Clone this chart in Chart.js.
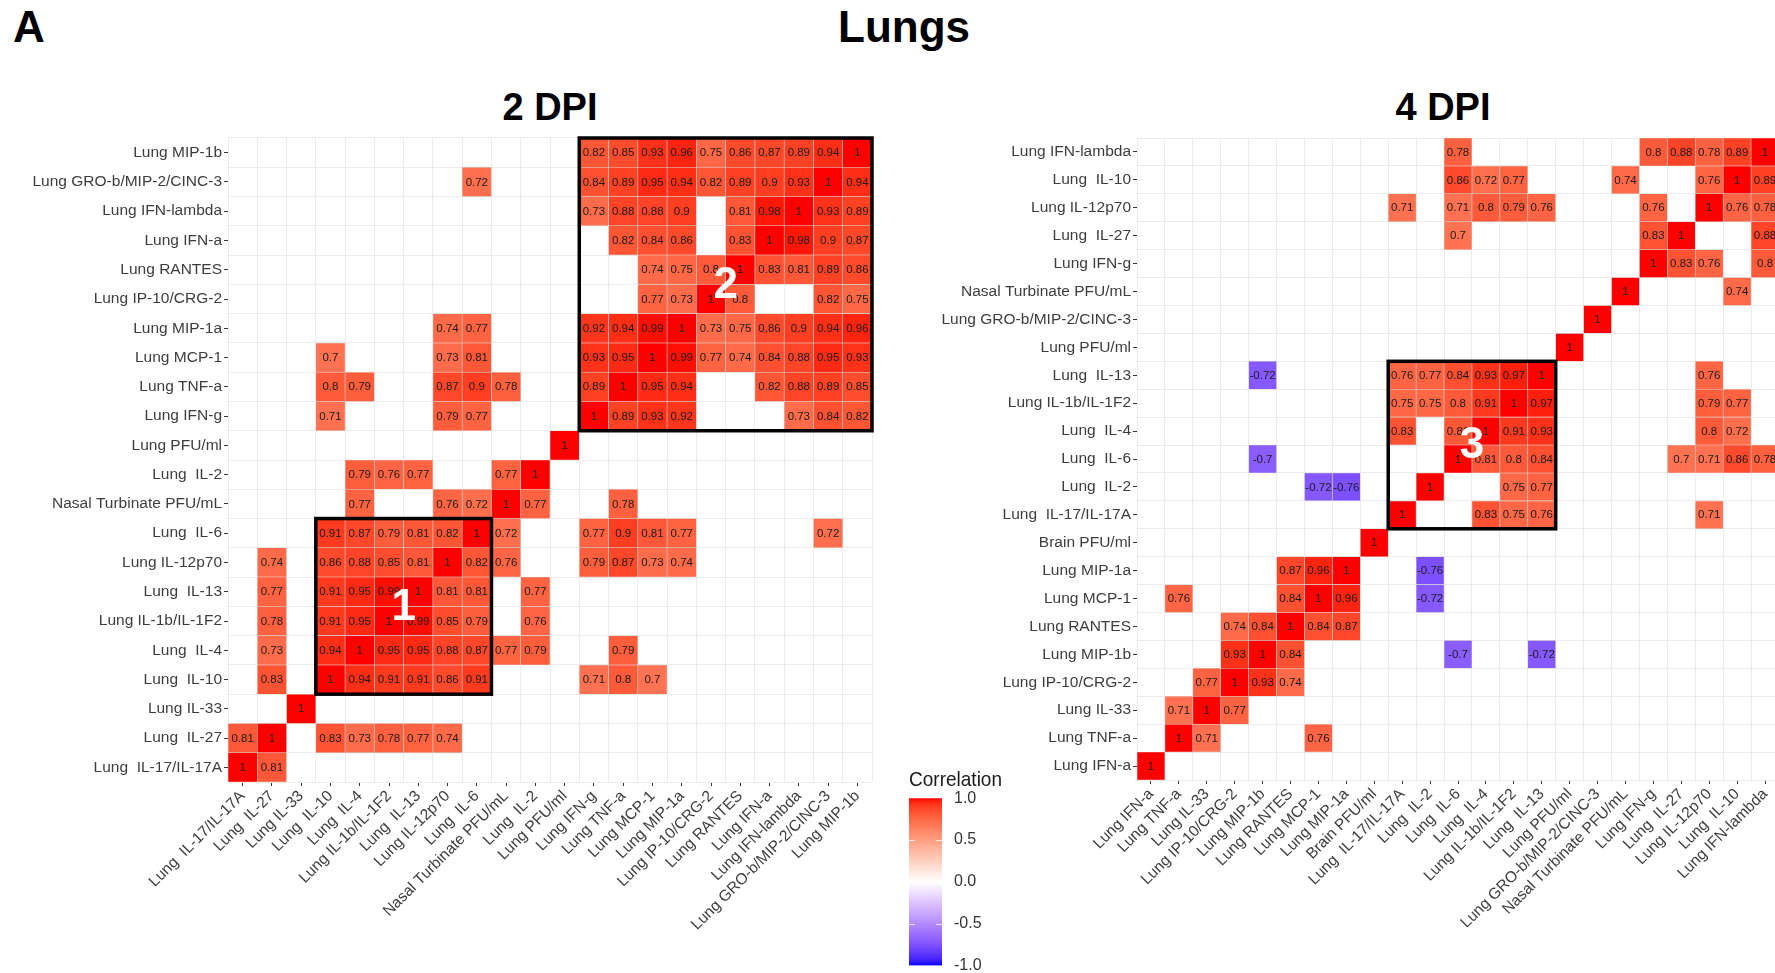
<!DOCTYPE html>
<html><head><meta charset="utf-8">
<script src="https://cdn.jsdelivr.net/npm/chart.js@4.4.1/dist/chart.umd.min.js"></script>
<style>
html,body{margin:0;padding:0;background:#fff;overflow:hidden;width:1775px;height:973px;}
body{position:relative;font-family:"Liberation Sans",Arial,sans-serif;}
canvas{position:absolute;}
.t{position:absolute;font-weight:bold;color:#000;line-height:1;white-space:nowrap;}
</style></head><body>
<div class="t" style="left:13px;top:5px;font-size:44px;">A</div>
<div class="t" style="left:904px;top:5px;font-size:44px;transform:translateX(-50%);">Lungs</div>
<div class="t" style="left:550px;top:88px;font-size:38px;transform:translateX(-50%);">2 DPI</div>
<div class="t" style="left:1443px;top:88px;font-size:38px;transform:translateX(-50%);">4 DPI</div>
<canvas id="c2" width="880" height="973" style="left:0;top:0"></canvas>
<canvas id="c4" width="900" height="973" style="left:900px;top:0"></canvas>
<canvas id="cl" width="130" height="232" style="left:895px;top:755px"></canvas>
<script>
const _ = null;

// ---------- 2 DPI ----------
const dpi2Labels = ['Lung  IL-17/IL-17A','Lung  IL-27','Lung IL-33','Lung  IL-10','Lung  IL-4','Lung IL-1b/IL-1F2','Lung  IL-13','Lung IL-12p70','Lung  IL-6','Nasal Turbinate PFU/mL','Lung  IL-2','Lung PFU/ml','Lung IFN-g','Lung TNF-a','Lung MCP-1','Lung MIP-1a','Lung IP-10/CRG-2','Lung RANTES','Lung IFN-a','Lung IFN-lambda','Lung GRO-b/MIP-2/CINC-3','Lung MIP-1b'];
const dpi2Values = [
  [1,0.81,_,_,_,_,_,_,_,_,_,_,_,_,_,_,_,_,_,_,_,_],
  [0.81,1,_,0.83,0.73,0.78,0.77,0.74,_,_,_,_,_,_,_,_,_,_,_,_,_,_],
  [_,_,1,_,_,_,_,_,_,_,_,_,_,_,_,_,_,_,_,_,_,_],
  [_,0.83,_,1,0.94,0.91,0.91,0.86,0.91,_,_,_,0.71,0.8,0.7,_,_,_,_,_,_,_],
  [_,0.73,_,0.94,1,0.95,0.95,0.88,0.87,0.77,0.79,_,_,0.79,_,_,_,_,_,_,_,_],
  [_,0.78,_,0.91,0.95,1,0.99,0.85,0.79,_,0.76,_,_,_,_,_,_,_,_,_,_,_],
  [_,0.77,_,0.91,0.95,0.99,1,0.81,0.81,_,0.77,_,_,_,_,_,_,_,_,_,_,_],
  [_,0.74,_,0.86,0.88,0.85,0.81,1,0.82,0.76,_,_,0.79,0.87,0.73,0.74,_,_,_,_,_,_],
  [_,_,_,0.91,0.87,0.79,0.81,0.82,1,0.72,_,_,0.77,0.9,0.81,0.77,_,_,_,_,0.72,_],
  [_,_,_,_,0.77,_,_,0.76,0.72,1,0.77,_,_,0.78,_,_,_,_,_,_,_,_],
  [_,_,_,_,0.79,0.76,0.77,_,_,0.77,1,_,_,_,_,_,_,_,_,_,_,_],
  [_,_,_,_,_,_,_,_,_,_,_,1,_,_,_,_,_,_,_,_,_,_],
  [_,_,_,0.71,_,_,_,0.79,0.77,_,_,_,1,0.89,0.93,0.92,_,_,_,0.73,0.84,0.82],
  [_,_,_,0.8,0.79,_,_,0.87,0.9,0.78,_,_,0.89,1,0.95,0.94,_,_,0.82,0.88,0.89,0.85],
  [_,_,_,0.7,_,_,_,0.73,0.81,_,_,_,0.93,0.95,1,0.99,0.77,0.74,0.84,0.88,0.95,0.93],
  [_,_,_,_,_,_,_,0.74,0.77,_,_,_,0.92,0.94,0.99,1,0.73,0.75,0.86,0.9,0.94,0.96],
  [_,_,_,_,_,_,_,_,_,_,_,_,_,_,0.77,0.73,1,0.8,_,_,0.82,0.75],
  [_,_,_,_,_,_,_,_,_,_,_,_,_,_,0.74,0.75,0.8,1,0.83,0.81,0.89,0.86],
  [_,_,_,_,_,_,_,_,_,_,_,_,_,0.82,0.84,0.86,_,0.83,1,0.98,0.9,0.87],
  [_,_,_,_,_,_,_,_,_,_,_,_,0.73,0.88,0.88,0.9,_,0.81,0.98,1,0.93,0.89],
  [_,_,_,_,_,_,_,_,0.72,_,_,_,0.84,0.89,0.95,0.94,0.82,0.89,0.9,0.93,1,0.94],
  [_,_,_,_,_,_,_,_,_,_,_,_,0.82,0.85,0.93,0.96,0.75,0.86,0.87,0.89,0.94,1]
];
const dpi2Clusters = [{label:'1', from:3, to:8}, {label:'2', from:12, to:21}];

// ---------- 4 DPI ----------
const dpi4Labels = ['Lung IFN-a','Lung TNF-a','Lung IL-33','Lung IP-10/CRG-2','Lung MIP-1b','Lung RANTES','Lung MCP-1','Lung MIP-1a','Brain PFU/ml','Lung  IL-17/IL-17A','Lung  IL-2','Lung  IL-6','Lung  IL-4','Lung IL-1b/IL-1F2','Lung  IL-13','Lung PFU/ml','Lung GRO-b/MIP-2/CINC-3','Nasal Turbinate PFU/mL','Lung IFN-g','Lung  IL-27','Lung IL-12p70','Lung  IL-10','Lung IFN-lambda'];
const dpi4Values = [
  [1,_,_,_,_,_,_,_,_,_,_,_,_,_,_,_,_,_,_,_,_,_,_],
  [_,1,0.71,_,_,_,0.76,_,_,_,_,_,_,_,_,_,_,_,_,_,_,_,_],
  [_,0.71,1,0.77,_,_,_,_,_,_,_,_,_,_,_,_,_,_,_,_,_,_,_],
  [_,_,0.77,1,0.93,0.74,_,_,_,_,_,_,_,_,_,_,_,_,_,_,_,_,_],
  [_,_,_,0.93,1,0.84,_,_,_,_,_,-0.7,_,_,-0.72,_,_,_,_,_,_,_,_],
  [_,_,_,0.74,0.84,1,0.84,0.87,_,_,_,_,_,_,_,_,_,_,_,_,_,_,_],
  [_,0.76,_,_,_,0.84,1,0.96,_,_,-0.72,_,_,_,_,_,_,_,_,_,_,_,_],
  [_,_,_,_,_,0.87,0.96,1,_,_,-0.76,_,_,_,_,_,_,_,_,_,_,_,_],
  [_,_,_,_,_,_,_,_,1,_,_,_,_,_,_,_,_,_,_,_,_,_,_],
  [_,_,_,_,_,_,_,_,_,1,_,_,0.83,0.75,0.76,_,_,_,_,_,0.71,_,_],
  [_,_,_,_,_,_,-0.72,-0.76,_,_,1,_,_,0.75,0.77,_,_,_,_,_,_,_,_],
  [_,_,_,_,-0.7,_,_,_,_,_,_,1,0.81,0.8,0.84,_,_,_,_,0.7,0.71,0.86,0.78],
  [_,_,_,_,_,_,_,_,_,0.83,_,0.81,1,0.91,0.93,_,_,_,_,_,0.8,0.72,_],
  [_,_,_,_,_,_,_,_,_,0.75,0.75,0.8,0.91,1,0.97,_,_,_,_,_,0.79,0.77,_],
  [_,_,_,_,-0.72,_,_,_,_,0.76,0.77,0.84,0.93,0.97,1,_,_,_,_,_,0.76,_,_],
  [_,_,_,_,_,_,_,_,_,_,_,_,_,_,_,1,_,_,_,_,_,_,_],
  [_,_,_,_,_,_,_,_,_,_,_,_,_,_,_,_,1,_,_,_,_,_,_],
  [_,_,_,_,_,_,_,_,_,_,_,_,_,_,_,_,_,1,_,_,_,0.74,_],
  [_,_,_,_,_,_,_,_,_,_,_,_,_,_,_,_,_,_,1,0.83,0.76,_,0.8],
  [_,_,_,_,_,_,_,_,_,_,_,0.7,_,_,_,_,_,_,0.83,1,_,_,0.88],
  [_,_,_,_,_,_,_,_,_,0.71,_,0.71,0.8,0.79,0.76,_,_,_,0.76,_,1,0.76,0.78],
  [_,_,_,_,_,_,_,_,_,_,_,0.86,0.72,0.77,_,_,_,0.74,_,_,0.76,1,0.89],
  [_,_,_,_,_,_,_,_,_,_,_,0.78,_,_,_,_,_,_,0.8,0.88,0.78,0.89,1]
];
const dpi4Clusters = [{label:'3', from:9, to:14}];

// ---------- legend ----------
const legendRange = [-1, 1];
const legendStep = 0.5;

// ---------- colour scale (white -> red / white -> blue, Lab interpolation) ----------
function lab2rgb(L, a, b) {
  const fy = (L + 16) / 116, fx = fy + a / 500, fz = fy - b / 200;
  const f = t => (t > 6/29 ? t*t*t : 3*(6/29)*(6/29)*(t - 4/29));
  const X = 0.95047 * f(fx), Y = f(fy), Z = 1.08883 * f(fz);
  let r = 3.2406*X - 1.5372*Y - 0.4986*Z;
  let g = -0.9689*X + 1.8758*Y + 0.0415*Z;
  let bb = 0.0557*X - 0.2040*Y + 1.0570*Z;
  const gam = c => { c = Math.min(1, Math.max(0, c)); return Math.round(255 * (c <= 0.0031308 ? 12.92*c : 1.055*Math.pow(c, 1/2.4) - 0.055)); };
  return `rgb(${gam(r)},${gam(g)},${gam(bb)})`;
}
const LAB_RED = [53.24, 80.09, 67.20], LAB_BLUE = [32.30, 79.19, -107.86], LAB_WHITE = [100, 0, 0];
function corrColor(v) {
  if (v === null || v === undefined) return 'rgba(0,0,0,0)';
  const t = Math.min(1, Math.abs(v)), e = v >= 0 ? LAB_RED : LAB_BLUE;
  return lab2rgb(LAB_WHITE[0] + (e[0]-LAB_WHITE[0])*t, e[1]*t, e[2]*t);
}

Chart.defaults.font.family = '"Liberation Sans", Arial, sans-serif';

function heatmap(canvasId, labels, values, clusters, geo) {
  const n = labels.length;
  const datasets = values.map((row, r) => ({
    data: row.map(v => v === null ? null : [r - 0.5, r + 0.5]),
    values: row,
    xAxisID: 'x', yAxisID: 'yv',
    grouped: false, barPercentage: 1, categoryPercentage: 1,
    borderWidth: 0.6, borderColor: 'rgba(205,205,205,0.55)', borderSkipped: false,
    backgroundColor: ctx => corrColor(ctx.dataset.values[ctx.dataIndex])
  }));
  const textPlugin = {
    id: 'cellText' + canvasId,
    afterDatasetsDraw(chart) {
      const ctx = chart.ctx;
      ctx.save();
      ctx.font = '11.5px "Liberation Sans", Arial, sans-serif';
      ctx.fillStyle = '#1a1a1a';
      ctx.textAlign = 'center'; ctx.textBaseline = 'middle';
      chart.data.datasets.forEach((ds, i) => {
        chart.getDatasetMeta(i).data.forEach((bar, j) => {
          const v = ds.values[j];
          if (v === null) return;
          const p = bar.getProps(['x', 'y', 'base'], true);
          ctx.fillText(String(v), p.x, (p.y + p.base) / 2 + 0.5);
        });
      });
      const xs = chart.scales.x, ys = chart.scales.yv;
      const half = (xs.getPixelForValue(1) - xs.getPixelForValue(0)) / 2;
      clusters.forEach(cl => {
        const x0 = xs.getPixelForValue(cl.from) - half, x1 = xs.getPixelForValue(cl.to) + half;
        const y0 = ys.getPixelForValue(cl.to + 0.5), y1 = ys.getPixelForValue(cl.from - 0.5);
        ctx.lineWidth = 3.5; ctx.strokeStyle = '#000';
        ctx.strokeRect(x0, y0, x1 - x0, y1 - y0);
        ctx.font = 'bold 44px "Liberation Sans", Arial, sans-serif';
        ctx.fillStyle = '#fff';
        ctx.fillText(cl.label, (x0 + x1) / 2, (y0 + y1) / 2 + 1);
      });
      ctx.restore();
    }
  };
  return new Chart(document.getElementById(canvasId), {
    type: 'bar',
    data: { labels, datasets },
    options: {
      responsive: false, animation: false, events: [],
      layout: { padding: geo.padding },
      plugins: { legend: { display: false }, tooltip: { enabled: false } },
      scales: {
        x: { type: 'category', position: 'bottom', offset: true,
             grid: { offset: false, drawOnChartArea: false, drawTicks: true, tickLength: 4, color: '#333' },
             border: { display: false },
             ticks: { autoSkip: false, minRotation: 45, maxRotation: 45, color: '#3d3d3d', font: { size: 15.5 }, padding: 1 },
             afterFit: s => { s.height = geo.xAxisHeight; } },
        xg: { type: 'category', position: 'top', offset: true,
              grid: { offset: true, color: '#ebebeb', drawTicks: false },
              border: { display: false }, ticks: { display: false },
              afterFit: s => { s.height = 0; } },
        y: { type: 'category', labels, reverse: true, position: 'left', offset: true,
             grid: { offset: false, drawOnChartArea: false, drawTicks: true, tickLength: 4, color: '#333' },
             border: { display: false },
             ticks: { autoSkip: false, color: '#3d3d3d', font: { size: 15.5 }, padding: 2 },
             afterFit: s => { s.width = geo.yAxisWidth; } },
        yg: { type: 'category', labels, reverse: true, position: 'right', offset: true,
              grid: { offset: true, color: '#ebebeb', drawTicks: false },
              border: { display: false }, ticks: { display: false },
              afterFit: s => { s.width = 0; } },
        yv: { type: 'linear', display: false, min: -0.5, max: n - 0.5 }
      }
    },
    plugins: [textPlugin]
  });
}

heatmap('c2', dpi2Labels, dpi2Values, dpi2Clusters,
  { padding: { top: 138, right: 8, left: 0, bottom: 0 }, xAxisHeight: 191, yAxisWidth: 228 });
heatmap('c4', dpi4Labels, dpi4Values, dpi4Clusters,
  { padding: { top: 138, right: 21, left: 0, bottom: 0 }, xAxisHeight: 193, yAxisWidth: 237 });

// ---------- colour bar legend ----------
const barTicks = {
  id: 'barTicks',
  afterDatasetsDraw(chart) {
    const { ctx, chartArea: a, scales: { y } } = chart;
    ctx.save(); ctx.strokeStyle = 'rgba(255,255,255,0.8)'; ctx.lineWidth = 1;
    y.ticks.forEach(t => {
      if (t.value <= legendRange[0] || t.value >= legendRange[1]) return;
      const py = Math.round(y.getPixelForValue(t.value)) + 0.5;
      ctx.beginPath();
      ctx.moveTo(a.left, py); ctx.lineTo(a.left + 6, py);
      ctx.moveTo(a.right - 6, py); ctx.lineTo(a.right, py);
      ctx.stroke();
    });
    ctx.restore();
  }
};
new Chart(document.getElementById('cl'), {
  type: 'bar',
  data: { labels: [''], datasets: [{
    data: [legendRange],
    borderWidth: 0, barPercentage: 1, categoryPercentage: 1,
    backgroundColor: ctx => {
      const area = ctx.chart.chartArea;
      if (!area) return '#fff';
      const g = ctx.chart.ctx.createLinearGradient(0, area.bottom, 0, area.top);
      for (let k = 0; k <= 40; k++) {
        const v = legendRange[0] + (legendRange[1] - legendRange[0]) * k / 40;
        g.addColorStop(k / 40, corrColor(v));
      }
      return g;
    }
  }] },
  options: {
    responsive: false, animation: false, events: [],
    layout: { padding: { left: 14, right: 23, top: 0, bottom: 8 } },
    plugins: {
      legend: { display: false }, tooltip: { enabled: false },
      title: { display: true, text: 'Correlation', align: 'start', color: '#1a1a1a',
               font: { size: 21, weight: 'normal' }, padding: { top: 13, bottom: 5 } }
    },
    scales: {
      x: { display: false, offset: true },
      y: { position: 'right', min: legendRange[0], max: legendRange[1],
           ticks: { stepSize: legendStep, callback: v => v.toFixed(1), color: '#333', font: { size: 16 }, padding: 12 },
           grid: { drawOnChartArea: false, drawTicks: false }, border: { display: false },
           afterFit: s => { s.width = 60; } }
    }
  },
  plugins: [barTicks]
});
</script>
</body></html>
